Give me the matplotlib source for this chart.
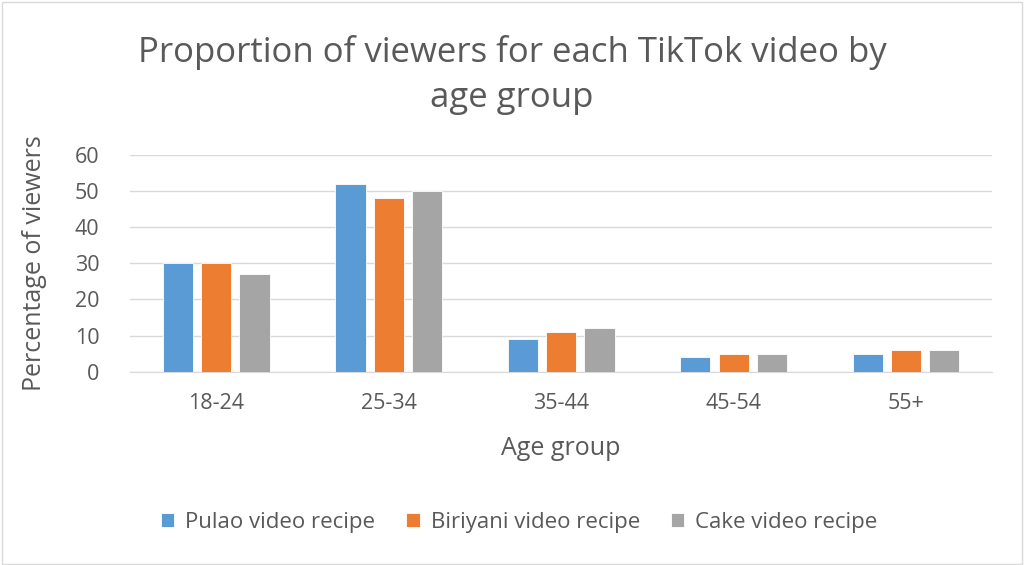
import matplotlib
matplotlib.use("Agg")
import matplotlib.pyplot as plt
import numpy as np
from matplotlib.patches import Rectangle

categories = ["18-24", "25-34", "35-44", "45-54", "55+"]
pulao = [30, 52, 9, 4, 5]
biriyani = [30, 48, 11, 5, 6]
cake = [27, 50, 12, 5, 6]
series_names = ["Pulao video recipe", "Biriyani video recipe", "Cake video recipe"]
yticks = [0, 10, 20, 30, 40, 50, 60]

colors = ["#5B9BD5", "#ED7D31", "#A5A5A5"]
txt = "#595959"
plt.rcParams['font.family'] = ['Open Sans', 'DejaVu Sans']

fig = plt.figure(figsize=(10.24, 5.65), dpi=100)
fig.patch.set_facecolor("white")
fig.add_artist(Rectangle((0.002, 0.002), 0.996, 0.995, transform=fig.transFigure,
                         fill=False, edgecolor="#D9D9D9", linewidth=1))
ax = fig.add_axes([0.127, 0.342, 0.842, 0.384])
x = np.arange(len(categories))
w = 0.175
off = 0.222
for i, vals in enumerate([pulao, biriyani, cake]):
    ax.bar(x + (i - 1) * off, vals, width=w, color=colors[i], label=series_names[i], zorder=3,
           edgecolor="white", linewidth=0.6)

ax.set_xlim(-0.5, len(categories) - 0.5)
ax.set_ylim(0, 60)
ax.set_yticks(yticks)
ax.set_xticks(x)
ax.set_xticklabels(categories)
ax.yaxis.grid(True, color="#D9D9D9", linewidth=1, zorder=0)
ax.tick_params(axis="both", length=0, labelsize=15.5, colors=txt)
ax.tick_params(axis="x", pad=15)
ax.tick_params(axis="y", pad=22)
for s in ["top", "right", "left"]:
    ax.spines[s].set_visible(False)
ax.spines["bottom"].set_color("#D9D9D9")
ax.set_xlabel("Age group", fontsize=18, color=txt, labelpad=16)
ax.set_ylabel("Percentage of viewers", fontsize=18, color=txt, labelpad=20)

fig.text(0.5, 0.867, "Proportion of viewers for each TikTok video by\nage group", ha="center", va="center",
         fontsize=25, color=txt, linespacing=1.45)

fig.legend(loc="center", bbox_to_anchor=(0.507, 0.075), ncol=3, frameon=False, fontsize=16,
           labelcolor=txt, handlelength=0.6, handleheight=0.6, columnspacing=1.4, handletextpad=0.5)

fig.savefig("out.png", dpi=100)
